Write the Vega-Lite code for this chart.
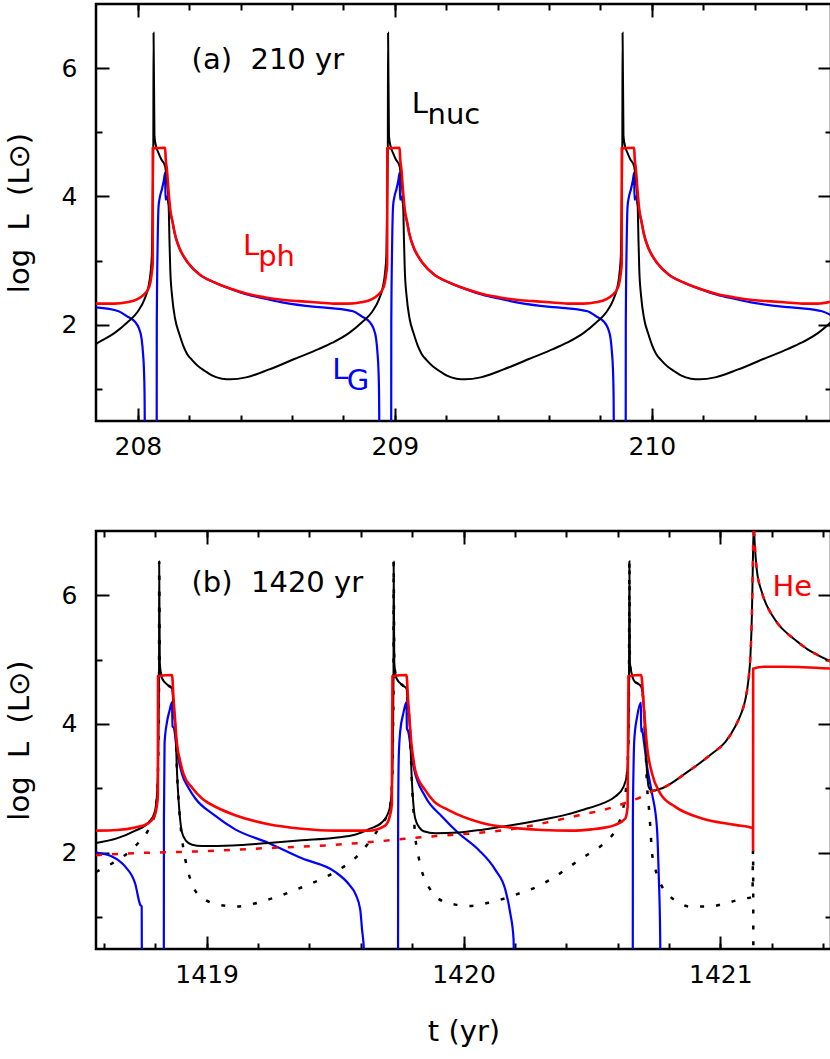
{
"$schema": "https://vega.github.io/schema/vega-lite/v6.json",
"background": "white",
"padding": {"left": 3, "top": 1, "right": 0, "bottom": 0},
"spacing": 67,
"config": {
  "view": {"stroke": "black", "strokeWidth": 2.5},
  "axis": {"domain": false, "grid": false, "tickColor": "black", "tickWidth": 2, "labelColor": "black", "labelFont": "DejaVu Sans", "labelFontSize": 25, "titleFont": "DejaVu Sans", "titleFontSize": 29, "titleFontWeight": "normal", "titleColor": "black"},
  "text": {"font": "DejaVu Sans"},
  "line": {"interpolate": "monotone"}
},
"datasets": {
"a_nuc": [{"t":207.837,"L":1.7},{"t":207.8445,"L":1.72},{"t":207.9085,"L":1.87},{"t":207.9595,"L":2.04},{"t":207.9985,"L":2.2},{"t":208.026,"L":2.4},{"t":208.0415,"L":2.6},{"t":208.049,"L":2.8},{"t":208.0545,"L":3.1},{"t":208.0575,"L":3.9},{"t":208.06,"L":4.8},
{"t":208.061,"L":6.55},{"t":208.0645,"L":4.94},{"t":208.071,"L":4.78},{"t":208.08,"L":4.68},{"t":208.091,"L":4.58},{"t":208.106,"L":4.47},{"t":208.111,"L":4.3},{"t":208.1195,"L":3.9},{"t":208.123,"L":3.3},{"t":208.126,"L":2.86},{"t":208.133,"L":2.45},{"t":208.145,"L":2.09},{"t":208.161,"L":1.86},{"t":208.176,"L":1.68},{"t":208.191,"L":1.55},{"t":208.211,"L":1.45},{"t":208.236,"L":1.35},{"t":208.261,"L":1.28},{"t":208.288,"L":1.21},{"t":208.327,"L":1.16},{"t":208.361,"L":1.15},{"t":208.421,"L":1.18},{"t":208.508,"L":1.3},{"t":208.561,"L":1.385},{"t":208.611,"L":1.47},{"t":208.703,"L":1.62},{"t":208.757,"L":1.72},{"t":208.821,"L":1.87},{"t":208.872,"L":2.04},{"t":208.911,"L":2.2},{"t":208.9385,"L":2.4},{"t":208.954,"L":2.6},{"t":208.9615,"L":2.8},{"t":208.967,"L":3.1},{"t":208.97,"L":3.9},{"t":208.9725,"L":4.8},
{"t":208.9735,"L":6.55},{"t":208.977,"L":4.94},{"t":208.9835,"L":4.78},{"t":208.9925,"L":4.68},{"t":209.0035,"L":4.58},{"t":209.0185,"L":4.47},{"t":209.0235,"L":4.3},{"t":209.032,"L":3.9},{"t":209.0355,"L":3.3},{"t":209.0385,"L":2.86},{"t":209.0455,"L":2.45},{"t":209.0575,"L":2.09},{"t":209.0735,"L":1.86},{"t":209.0885,"L":1.68},{"t":209.1035,"L":1.55},{"t":209.1235,"L":1.45},{"t":209.1485,"L":1.35},{"t":209.1735,"L":1.28},{"t":209.2005,"L":1.21},{"t":209.2395,"L":1.16},{"t":209.2735,"L":1.15},{"t":209.3335,"L":1.18},{"t":209.4205,"L":1.3},{"t":209.4735,"L":1.385},{"t":209.5235,"L":1.47},{"t":209.6155,"L":1.62},{"t":209.6695,"L":1.72},{"t":209.7335,"L":1.87},{"t":209.7845,"L":2.04},{"t":209.8235,"L":2.2},{"t":209.851,"L":2.4},{"t":209.8665,"L":2.6},{"t":209.874,"L":2.8},{"t":209.8795,"L":3.1},{"t":209.8825,"L":3.9},{"t":209.885,"L":4.8},
{"t":209.886,"L":6.55},{"t":209.8895,"L":4.94},{"t":209.896,"L":4.78},{"t":209.905,"L":4.68},{"t":209.916,"L":4.58},{"t":209.931,"L":4.47},{"t":209.936,"L":4.3},{"t":209.9445,"L":3.9},{"t":209.948,"L":3.3},{"t":209.951,"L":2.86},{"t":209.958,"L":2.45},{"t":209.97,"L":2.09},{"t":209.986,"L":1.86},{"t":210.001,"L":1.68},{"t":210.016,"L":1.55},{"t":210.036,"L":1.45},{"t":210.061,"L":1.35},{"t":210.086,"L":1.28},{"t":210.113,"L":1.21},{"t":210.152,"L":1.16},{"t":210.186,"L":1.15},{"t":210.246,"L":1.18},{"t":210.333,"L":1.3},{"t":210.386,"L":1.385},{"t":210.436,"L":1.47},{"t":210.528,"L":1.62},{"t":210.582,"L":1.72},{"t":210.646,"L":1.87},{"t":210.697,"L":2.04}],
"a_ph": [{"t":207.837,"L":2.33},{"t":207.9085,"L":2.33},{"t":207.9565,"L":2.35},{"t":207.9985,"L":2.4},{"t":208.0235,"L":2.47},{"t":208.0365,"L":2.53},{"t":208.0485,"L":2.66},{"t":208.0545,"L":2.82},{"t":208.0575,"L":2.95},{"t":208.058,"L":4.75},{"t":208.106,"L":4.76},{"t":208.108,"L":4.6},{"t":208.113,"L":4.42},{"t":208.119,"L":4.1},{"t":208.126,"L":3.8},{"t":208.135,"L":3.6},{"t":208.143,"L":3.43},{"t":208.161,"L":3.2},{"t":208.176,"L":3.08},{"t":208.194,"L":2.97},{"t":208.241,"L":2.78},{"t":208.298,"L":2.66},{"t":208.361,"L":2.56},{"t":208.428,"L":2.48},{"t":208.491,"L":2.43},{"t":208.558,"L":2.39},{"t":208.621,"L":2.37},{"t":208.688,"L":2.35},{"t":208.761,"L":2.33},{"t":208.821,"L":2.33},{"t":208.869,"L":2.35},{"t":208.911,"L":2.4},{"t":208.936,"L":2.47},{"t":208.949,"L":2.53},{"t":208.961,"L":2.66},{"t":208.967,"L":2.82},{"t":208.97,"L":2.95},{"t":208.9705,"L":4.75},{"t":209.0185,"L":4.76},{"t":209.0205,"L":4.6},{"t":209.0255,"L":4.42},{"t":209.0315,"L":4.1},{"t":209.0385,"L":3.8},{"t":209.0475,"L":3.6},{"t":209.0555,"L":3.43},{"t":209.0735,"L":3.2},{"t":209.0885,"L":3.08},{"t":209.1065,"L":2.97},{"t":209.1535,"L":2.78},{"t":209.2105,"L":2.66},{"t":209.2735,"L":2.56},{"t":209.3405,"L":2.48},{"t":209.4035,"L":2.43},{"t":209.4705,"L":2.39},{"t":209.5335,"L":2.37},{"t":209.6005,"L":2.35},{"t":209.6735,"L":2.33},{"t":209.7335,"L":2.33},{"t":209.7815,"L":2.35},{"t":209.8235,"L":2.4},{"t":209.8485,"L":2.47},{"t":209.8615,"L":2.53},{"t":209.8735,"L":2.66},{"t":209.8795,"L":2.82},{"t":209.8825,"L":2.95},{"t":209.883,"L":4.75},{"t":209.931,"L":4.76},{"t":209.933,"L":4.6},{"t":209.938,"L":4.42},{"t":209.944,"L":4.1},{"t":209.951,"L":3.8},{"t":209.96,"L":3.6},{"t":209.968,"L":3.43},{"t":209.986,"L":3.2},{"t":210.001,"L":3.08},{"t":210.019,"L":2.97},{"t":210.066,"L":2.78},{"t":210.123,"L":2.66},{"t":210.186,"L":2.56},{"t":210.253,"L":2.48},{"t":210.316,"L":2.43},{"t":210.383,"L":2.39},{"t":210.446,"L":2.37},{"t":210.513,"L":2.35},{"t":210.586,"L":2.33},{"t":210.646,"L":2.33},{"t":210.697,"L":2.36}],
"a_g": [{"t":207.837,"L":2.27},{"t":207.925,"L":2.21},{"t":207.9585,"L":2.13},{"t":207.99,"L":2.04},{"t":208.0035,"L":1.95},{"t":208.0145,"L":1.78},{"t":208.02,"L":1.55},{"t":208.0235,"L":1.31},{"t":208.026,"L":0.9},{"t":208.0285,"L":-0.5},{"t":208.073,"L":-0.5},{"t":208.0735,"L":2.0},{"t":208.077,"L":3.3},{"t":208.0805,"L":3.85},{"t":208.086,"L":4.0},{"t":208.0933,"L":4.11},{"t":208.101,"L":4.25},{"t":208.106,"L":4.37},{"t":208.1075,"L":3.95},{"t":208.111,"L":4.0},{"t":208.116,"L":3.95},{"t":208.121,"L":3.85},{"t":208.126,"L":3.75},{"t":208.135,"L":3.6},{"t":208.143,"L":3.43},{"t":208.161,"L":3.2},{"t":208.176,"L":3.08},{"t":208.194,"L":2.97},{"t":208.241,"L":2.78},{"t":208.298,"L":2.66},{"t":208.361,"L":2.56},{"t":208.428,"L":2.47},{"t":208.491,"L":2.41},{"t":208.561,"L":2.35},{"t":208.691,"L":2.28},{"t":208.751,"L":2.26},{"t":208.8375,"L":2.21},{"t":208.871,"L":2.13},{"t":208.9025,"L":2.04},{"t":208.916,"L":1.95},{"t":208.927,"L":1.78},{"t":208.9325,"L":1.55},{"t":208.936,"L":1.31},{"t":208.9385,"L":0.9},{"t":208.941,"L":-0.5},{"t":208.9855,"L":-0.5},{"t":208.986,"L":2.0},{"t":208.9895,"L":3.3},{"t":208.993,"L":3.85},{"t":208.9985,"L":4.0},{"t":209.0058,"L":4.11},{"t":209.0135,"L":4.25},{"t":209.0185,"L":4.37},{"t":209.02,"L":3.95},{"t":209.0235,"L":4.0},{"t":209.0285,"L":3.95},{"t":209.0335,"L":3.85},{"t":209.0385,"L":3.75},{"t":209.0475,"L":3.6},{"t":209.0555,"L":3.43},{"t":209.0735,"L":3.2},{"t":209.0885,"L":3.08},{"t":209.1065,"L":2.97},{"t":209.1535,"L":2.78},{"t":209.2105,"L":2.66},{"t":209.2735,"L":2.56},{"t":209.3405,"L":2.47},{"t":209.4035,"L":2.41},{"t":209.4735,"L":2.35},{"t":209.6035,"L":2.28},{"t":209.6635,"L":2.26},{"t":209.75,"L":2.21},{"t":209.7835,"L":2.13},{"t":209.815,"L":2.04},{"t":209.8285,"L":1.95},{"t":209.8395,"L":1.78},{"t":209.845,"L":1.55},{"t":209.8485,"L":1.31},{"t":209.851,"L":0.9},{"t":209.8535,"L":-0.5},{"t":209.898,"L":-0.5},{"t":209.8985,"L":2.0},{"t":209.902,"L":3.3},{"t":209.9055,"L":3.85},{"t":209.911,"L":4.0},{"t":209.9183,"L":4.11},{"t":209.926,"L":4.25},{"t":209.931,"L":4.37},{"t":209.9325,"L":3.95},{"t":209.936,"L":4.0},{"t":209.941,"L":3.95},{"t":209.946,"L":3.85},{"t":209.951,"L":3.75},{"t":209.96,"L":3.6},{"t":209.968,"L":3.43},{"t":209.986,"L":3.2},{"t":210.001,"L":3.08},{"t":210.019,"L":2.97},{"t":210.066,"L":2.78},{"t":210.123,"L":2.66},{"t":210.186,"L":2.56},{"t":210.253,"L":2.47},{"t":210.316,"L":2.41},{"t":210.386,"L":2.35},{"t":210.516,"L":2.28},{"t":210.576,"L":2.26},{"t":210.6625,"L":2.21},{"t":210.697,"L":2.15}],
"a_tk": [{"t":208.209,"L":5.99,"label":"(a)\u00a0\u00a0210 yr"},{"t":209.066,"L":5.3,"label":"L"},{"t":209.127,"L":5.13,"label":"nuc"}],
"a_tr": [{"t":208.409,"L":3.09,"label":"L"},{"t":208.468,"L":2.92,"label":"ph"}],
"a_tb": [{"t":208.756,"L":1.15,"label":"L"},{"t":208.813,"L":0.98,"label":"G"}],
"b_nuc": [{"t":1418.569,"L":2.15},{"t":1418.65,"L":2.22},{"t":1418.722,"L":2.34},{"t":1418.774,"L":2.47},{"t":1418.795,"L":2.6},{"t":1418.803,"L":2.75},{"t":1418.809,"L":3.1},{"t":1418.8125,"L":3.9},{"t":1418.8145,"L":4.8},{"t":1418.815,"L":6.52},{"t":1418.8175,"L":4.95},{"t":1418.826,"L":4.71},{"t":1418.85,"L":4.6},{"t":1418.865,"L":4.55},{"t":1418.871,"L":4.28},{"t":1418.878,"L":3.96},{"t":1418.885,"L":3.2},{"t":1418.891,"L":2.79},{"t":1418.904,"L":2.31},{"t":1418.92,"L":2.18},{"t":1418.943,"L":2.12},{"t":1418.982,"L":2.1},{"t":1419.1,"L":2.11},{"t":1419.241,"L":2.15},{"t":1419.37,"L":2.19},{"t":1419.5,"L":2.23},{"t":1419.58,"L":2.28},{"t":1419.63,"L":2.36},{"t":1419.683,"L":2.47},{"t":1419.705,"L":2.6},{"t":1419.715,"L":2.74},{"t":1419.722,"L":3.1},{"t":1419.7255,"L":3.9},{"t":1419.7275,"L":4.8},{"t":1419.728,"L":6.52},{"t":1419.7305,"L":4.95},{"t":1419.739,"L":4.71},{"t":1419.763,"L":4.6},{"t":1419.778,"L":4.55},{"t":1419.784,"L":4.28},{"t":1419.791,"L":3.96},{"t":1419.798,"L":3.2},{"t":1419.806,"L":2.7},{"t":1419.812,"L":2.53},{"t":1419.83,"L":2.38},{"t":1419.845,"L":2.33},{"t":1419.89,"L":2.3},{"t":1419.98,"L":2.31},{"t":1420.08,"L":2.36},{"t":1420.18,"L":2.42},{"t":1420.306,"L":2.51},{"t":1420.4,"L":2.59},{"t":1420.47,"L":2.67},{"t":1420.539,"L":2.76},{"t":1420.591,"L":2.87},{"t":1420.624,"L":3.03},{"t":1420.637,"L":3.23},{"t":1420.642,"L":3.75},{"t":1420.6445,"L":4.78},{"t":1420.646,"L":6.53},{"t":1420.648,"L":4.95},{"t":1420.655,"L":4.78},{"t":1420.663,"L":4.68},{"t":1420.692,"L":4.58},{"t":1420.702,"L":4.27},{"t":1420.708,"L":3.75},{"t":1420.715,"L":3.23},{"t":1420.721,"L":3.02},{"t":1420.734,"L":2.96},{"t":1420.773,"L":3.0},{"t":1420.864,"L":3.23},{"t":1420.968,"L":3.54},{"t":1421.02,"L":3.72},{"t":1421.058,"L":3.96},{"t":1421.08,"L":4.15},{"t":1421.097,"L":4.37},{"t":1421.11,"L":4.7},{"t":1421.117,"L":5.04},{"t":1421.123,"L":5.7},{"t":1421.126,"L":6.33},{"t":1421.13,"L":7.1},{"t":1421.134,"L":6.8},{"t":1421.142,"L":6.4},{"t":1421.16,"L":6.07},{"t":1421.18,"L":5.85},{"t":1421.2,"L":5.7},{"t":1421.23,"L":5.53},{"t":1421.26,"L":5.41},{"t":1421.3,"L":5.28},{"t":1421.34,"L":5.16},{"t":1421.38,"L":5.07},{"t":1421.431,"L":4.97}],
"b_ph": [{"t":1418.569,"L":2.34},{"t":1418.65,"L":2.35},{"t":1418.722,"L":2.39},{"t":1418.77,"L":2.45},{"t":1418.795,"L":2.55},{"t":1418.805,"L":2.7},{"t":1418.81,"L":2.9},{"t":1418.8105,"L":4.74},{"t":1418.865,"L":4.76},{"t":1418.871,"L":4.39},{"t":1418.878,"L":4.0},{"t":1418.884,"L":3.7},{"t":1418.895,"L":3.45},{"t":1418.91,"L":3.22},{"t":1418.945,"L":3.0},{"t":1418.982,"L":2.84},{"t":1419.04,"L":2.7},{"t":1419.111,"L":2.58},{"t":1419.241,"L":2.44},{"t":1419.37,"L":2.37},{"t":1419.5,"L":2.34},{"t":1419.63,"L":2.34},{"t":1419.695,"L":2.42},{"t":1419.712,"L":2.55},{"t":1419.721,"L":2.75},{"t":1419.7235,"L":4.74},{"t":1419.778,"L":4.76},{"t":1419.784,"L":4.39},{"t":1419.791,"L":4.0},{"t":1419.797,"L":3.7},{"t":1419.805,"L":3.45},{"t":1419.812,"L":3.28},{"t":1419.851,"L":2.97},{"t":1419.884,"L":2.8},{"t":1419.942,"L":2.66},{"t":1420.072,"L":2.46},{"t":1420.202,"L":2.38},{"t":1420.306,"L":2.35},{"t":1420.42,"L":2.34},{"t":1420.5,"L":2.36},{"t":1420.539,"L":2.38},{"t":1420.591,"L":2.43},{"t":1420.63,"L":2.53},{"t":1420.639,"L":2.71},{"t":1420.6425,"L":4.74},{"t":1420.692,"L":4.76},{"t":1420.702,"L":4.27},{"t":1420.715,"L":3.64},{"t":1420.734,"L":3.23},{"t":1420.766,"L":2.92},{"t":1420.825,"L":2.71},{"t":1420.929,"L":2.53},{"t":1421.058,"L":2.43},{"t":1421.127,"L":2.38},{"t":1421.1275,"L":2.04},{"t":1421.128,"L":4.86},{"t":1421.17,"L":4.89},{"t":1421.25,"L":4.89},{"t":1421.431,"L":4.86}],
"b_g": [{"t":1418.569,"L":2.0},{"t":1418.631,"L":1.94},{"t":1418.683,"L":1.78},{"t":1418.722,"L":1.51},{"t":1418.741,"L":1.19},{"t":1418.747,"L":1.16},{"t":1418.748,"L":-0.5},{"t":1418.833,"L":-0.5},{"t":1418.8335,"L":2.5},{"t":1418.836,"L":3.7},{"t":1418.845,"L":4.02},{"t":1418.855,"L":4.2},{"t":1418.865,"L":4.34},{"t":1418.867,"L":3.96},{"t":1418.872,"L":3.94},{"t":1418.884,"L":3.59},{"t":1418.904,"L":3.22},{"t":1418.93,"L":3.0},{"t":1418.956,"L":2.84},{"t":1419.03,"L":2.58},{"t":1419.111,"L":2.36},{"t":1419.241,"L":2.15},{"t":1419.371,"L":1.91},{"t":1419.5,"L":1.7},{"t":1419.553,"L":1.51},{"t":1419.58,"L":1.35},{"t":1419.598,"L":1.11},{"t":1419.605,"L":0.8},{"t":1419.612,"L":0.5},{"t":1419.615,"L":-0.5},{"t":1419.745,"L":-0.5},{"t":1419.7455,"L":2.5},{"t":1419.748,"L":3.5},{"t":1419.754,"L":3.9},{"t":1419.765,"L":4.15},{"t":1419.778,"L":4.34},{"t":1419.7795,"L":3.93},{"t":1419.785,"L":3.88},{"t":1419.797,"L":3.55},{"t":1419.806,"L":3.33},{"t":1419.851,"L":2.87},{"t":1419.916,"L":2.56},{"t":1419.981,"L":2.3},{"t":1420.059,"L":2.04},{"t":1420.124,"L":1.73},{"t":1420.163,"L":1.42},{"t":1420.182,"L":1.06},{"t":1420.195,"L":0.65},{"t":1420.198,"L":-0.5},{"t":1420.659,"L":-0.5},{"t":1420.6595,"L":2.5},{"t":1420.662,"L":3.3},{"t":1420.665,"L":3.75},{"t":1420.676,"L":4.11},{"t":1420.691,"L":4.33},{"t":1420.6915,"L":3.88},{"t":1420.695,"L":3.93},{"t":1420.7,"L":3.8},{"t":1420.715,"L":3.33},{"t":1420.734,"L":2.92},{"t":1420.753,"L":2.4},{"t":1420.76,"L":1.68},{"t":1420.766,"L":0.65},{"t":1420.767,"L":-0.5}],
"b_h": [{"t":1418.569,"L":1.7},{"t":1418.631,"L":1.83},{"t":1418.722,"L":2.1},{"t":1418.774,"L":2.36},{"t":1418.795,"L":2.55},{"t":1418.803,"L":2.72},{"t":1418.809,"L":3.05},{"t":1418.8125,"L":3.9},{"t":1418.8145,"L":4.8},{"t":1418.815,"L":6.52},{"t":1418.8175,"L":4.95},{"t":1418.826,"L":4.71},{"t":1418.85,"L":4.6},{"t":1418.865,"L":4.55},{"t":1418.871,"L":4.28},{"t":1418.878,"L":3.96},{"t":1418.885,"L":3.2},{"t":1418.891,"L":2.79},{"t":1418.9,"L":2.35},{"t":1418.91,"L":2.04},{"t":1418.923,"L":1.78},{"t":1418.943,"L":1.51},{"t":1418.982,"L":1.3},{"t":1419.047,"L":1.19},{"t":1419.111,"L":1.16},{"t":1419.241,"L":1.27},{"t":1419.371,"L":1.46},{"t":1419.5,"L":1.7},{"t":1419.58,"L":1.92},{"t":1419.63,"L":2.15},{"t":1419.683,"L":2.45},{"t":1419.705,"L":2.6},{"t":1419.715,"L":2.74},{"t":1419.722,"L":3.1},{"t":1419.7255,"L":3.9},{"t":1419.7275,"L":4.8},{"t":1419.728,"L":6.52},{"t":1419.7305,"L":4.95},{"t":1419.739,"L":4.71},{"t":1419.763,"L":4.6},{"t":1419.778,"L":4.55},{"t":1419.784,"L":4.28},{"t":1419.791,"L":3.96},{"t":1419.798,"L":3.2},{"t":1419.806,"L":2.6},{"t":1419.812,"L":2.25},{"t":1419.822,"L":2.0},{"t":1419.835,"L":1.75},{"t":1419.85,"L":1.57},{"t":1419.87,"L":1.43},{"t":1419.903,"L":1.28},{"t":1419.968,"L":1.19},{"t":1420.033,"L":1.17},{"t":1420.098,"L":1.22},{"t":1420.163,"L":1.29},{"t":1420.228,"L":1.38},{"t":1420.293,"L":1.48},{"t":1420.338,"L":1.58},{"t":1420.468,"L":1.93},{"t":1420.535,"L":2.1},{"t":1420.565,"L":2.2},{"t":1420.598,"L":2.4},{"t":1420.62,"L":2.66},{"t":1420.633,"L":3.0},{"t":1420.637,"L":3.23},{"t":1420.642,"L":3.75},{"t":1420.6445,"L":4.78},{"t":1420.646,"L":6.53},{"t":1420.648,"L":4.95},{"t":1420.655,"L":4.78},{"t":1420.663,"L":4.68},{"t":1420.692,"L":4.58},{"t":1420.702,"L":4.27},{"t":1420.708,"L":3.75},{"t":1420.715,"L":3.02},{"t":1420.721,"L":2.75},{"t":1420.727,"L":2.42},{"t":1420.734,"L":2.0},{"t":1420.743,"L":1.8},{"t":1420.753,"L":1.66},{"t":1420.773,"L":1.47},{"t":1420.795,"L":1.35},{"t":1420.819,"L":1.27},{"t":1420.883,"L":1.16},{"t":1420.955,"L":1.16},{"t":1421.02,"L":1.21},{"t":1421.086,"L":1.28},{"t":1421.125,"L":1.31},{"t":1421.1275,"L":2.04},{"t":1421.129,"L":-0.5}],
"b_he": [{"t":1418.569,"L":1.96},{"t":1418.722,"L":1.99},{"t":1418.982,"L":2.02},{"t":1419.241,"L":2.07},{"t":1419.5,"L":2.12},{"t":1419.738,"L":2.2},{"t":1419.812,"L":2.23},{"t":1419.942,"L":2.27},{"t":1420.072,"L":2.31},{"t":1420.228,"L":2.39},{"t":1420.338,"L":2.48},{"t":1420.45,"L":2.58},{"t":1420.552,"L":2.67},{"t":1420.63,"L":2.77},{"t":1420.695,"L":2.87},{"t":1420.734,"L":2.95},{"t":1420.773,"L":3.0},{"t":1420.864,"L":3.23},{"t":1420.968,"L":3.54},{"t":1421.02,"L":3.72},{"t":1421.058,"L":3.96},{"t":1421.08,"L":4.15},{"t":1421.097,"L":4.37},{"t":1421.11,"L":4.7},{"t":1421.117,"L":5.04},{"t":1421.123,"L":5.7},{"t":1421.126,"L":6.33},{"t":1421.13,"L":7.1},{"t":1421.134,"L":6.8},{"t":1421.142,"L":6.4},{"t":1421.16,"L":6.07},{"t":1421.18,"L":5.85},{"t":1421.2,"L":5.7},{"t":1421.23,"L":5.53},{"t":1421.26,"L":5.41},{"t":1421.3,"L":5.28},{"t":1421.34,"L":5.16},{"t":1421.38,"L":5.07},{"t":1421.431,"L":4.97}],
"b_tk": [{"t":1418.941,"L":6.05,"label":"(b)\u00a0\u00a01420 yr"}],
"b_tr": [{"t":1421.203,"L":5.99,"label":"He"}]
},
"vconcat": [
{
 "width": 735, "height": 417,
 "resolve": {"axis": {"x": "independent", "y": "independent"}},
 "layer": [
  {"data": {"name": "a_g"}, "mark": {"type": "line", "color": "#0000ff", "strokeWidth": 2.2, "clip": true},
   "encoding": {
    "x": {"field": "t", "type": "quantitative", "scale": {"domain": [207.837, 210.697], "nice": false, "zero": false}, "axis": {"orient": "bottom", "values": [208, 208.2, 208.4, 208.6, 208.8, 209, 209.2, 209.4, 209.6, 209.8, 210, 210.2, 210.4, 210.6], "tickSize": -6, "labels": false, "title": null}},
    "y": {"field": "L", "type": "quantitative", "scale": {"domain": [0.5, 7], "nice": false, "zero": false}, "axis": {"orient": "left", "values": [1, 3, 5], "tickSize": -6, "labels": false, "title": null}}}},
  {"data": {"name": "a_nuc"}, "mark": {"type": "line", "color": "black", "strokeWidth": 2, "clip": true},
   "encoding": {
    "x": {"field": "t", "type": "quantitative", "scale": {"domain": [207.837, 210.697], "nice": false, "zero": false}, "axis": {"orient": "bottom", "values": [208, 209, 210], "tickSize": -13, "labelPadding": 26, "format": "d", "labelFlush": false, "title": null}},
    "y": {"field": "L", "type": "quantitative", "scale": {"domain": [0.5, 7], "nice": false, "zero": false}, "axis": {"orient": "left", "values": [2, 4, 6], "tickSize": -13, "labelPadding": 32, "format": "d", "labelFlush": false, "title": "log\u00a0\u00a0L\u00a0\u00a0(L⊙)", "titlePadding": 27}}}},
  {"data": {"name": "a_ph"}, "mark": {"type": "line", "color": "#ff0000", "strokeWidth": 2.6, "clip": true},
   "encoding": {
    "x": {"field": "t", "type": "quantitative", "scale": {"domain": [207.837, 210.697], "nice": false, "zero": false}, "axis": {"orient": "top", "values": [208, 208.2, 208.4, 208.6, 208.8, 209, 209.2, 209.4, 209.6, 209.8, 210, 210.2, 210.4, 210.6], "tickSize": -6, "labels": false, "title": null}},
    "y": {"field": "L", "type": "quantitative", "scale": {"domain": [0.5, 7], "nice": false, "zero": false}, "axis": {"orient": "right", "values": [1, 3, 5], "tickSize": -6, "labels": false, "title": null}}}},
  {"data": {"name": "a_tk"}, "mark": {"type": "text", "align": "left", "baseline": "alphabetic", "fontSize": 29, "color": "black"},
   "encoding": {
    "x": {"field": "t", "type": "quantitative", "scale": {"domain": [207.837, 210.697], "nice": false, "zero": false}, "axis": {"orient": "top", "values": [208, 209, 210], "tickSize": -13, "labels": false, "title": null}},
    "y": {"field": "L", "type": "quantitative", "scale": {"domain": [0.5, 7], "nice": false, "zero": false}, "axis": {"orient": "right", "values": [2, 4, 6], "tickSize": -13, "labels": false, "title": null}},
    "text": {"field": "label"}}},
  {"data": {"name": "a_tr"}, "mark": {"type": "text", "align": "left", "baseline": "alphabetic", "fontSize": 29, "color": "#ff0000"},
   "encoding": {
    "x": {"field": "t", "type": "quantitative", "scale": {"domain": [207.837, 210.697], "nice": false, "zero": false}, "axis": null},
    "y": {"field": "L", "type": "quantitative", "scale": {"domain": [0.5, 7], "nice": false, "zero": false}, "axis": null},
    "text": {"field": "label"}}},
  {"data": {"name": "a_tb"}, "mark": {"type": "text", "align": "left", "baseline": "alphabetic", "fontSize": 29, "color": "#0000ff"},
   "encoding": {
    "x": {"field": "t", "type": "quantitative", "scale": {"domain": [207.837, 210.697], "nice": false, "zero": false}, "axis": null},
    "y": {"field": "L", "type": "quantitative", "scale": {"domain": [0.5, 7], "nice": false, "zero": false}, "axis": null},
    "text": {"field": "label"}}}
 ]
},
{
 "width": 735, "height": 418,
 "resolve": {"axis": {"x": "independent", "y": "independent"}},
 "layer": [
  {"data": {"name": "b_g"}, "mark": {"type": "line", "color": "#0000ff", "strokeWidth": 2.2, "clip": true},
   "encoding": {
    "x": {"field": "t", "type": "quantitative", "scale": {"domain": [1418.569, 1421.431], "nice": false, "zero": false}, "axis": {"orient": "bottom", "values": [1418.6, 1418.8, 1419, 1419.2, 1419.4, 1419.6, 1419.8, 1420, 1420.2, 1420.4, 1420.6, 1420.8, 1421, 1421.2, 1421.4], "tickSize": -6, "labels": false, "title": null}},
    "y": {"field": "L", "type": "quantitative", "scale": {"domain": [0.5, 7], "nice": false, "zero": false}, "axis": {"orient": "left", "values": [1, 3, 5], "tickSize": -6, "labels": false, "title": null}}}},
  {"data": {"name": "b_h"}, "mark": {"type": "line", "color": "black", "strokeWidth": 2.5, "strokeDash": [4, 12], "clip": true},
   "encoding": {
    "x": {"field": "t", "type": "quantitative", "scale": {"domain": [1418.569, 1421.431], "nice": false, "zero": false}, "axis": null},
    "y": {"field": "L", "type": "quantitative", "scale": {"domain": [0.5, 7], "nice": false, "zero": false}, "axis": null}}},
  {"data": {"name": "b_nuc"}, "mark": {"type": "line", "color": "black", "strokeWidth": 2, "clip": true},
   "encoding": {
    "x": {"field": "t", "type": "quantitative", "scale": {"domain": [1418.569, 1421.431], "nice": false, "zero": false}, "axis": {"orient": "bottom", "values": [1419, 1420, 1421], "tickSize": -13, "labelPadding": 26, "format": "d", "labelFlush": false, "title": "t (yr)", "titlePadding": 30}},
    "y": {"field": "L", "type": "quantitative", "scale": {"domain": [0.5, 7], "nice": false, "zero": false}, "axis": {"orient": "left", "values": [2, 4, 6], "tickSize": -13, "labelPadding": 32, "format": "d", "labelFlush": false, "title": "log\u00a0\u00a0L\u00a0\u00a0(L⊙)", "titlePadding": 27}}}},
  {"data": {"name": "b_ph"}, "mark": {"type": "line", "color": "#ff0000", "strokeWidth": 2.6, "clip": true},
   "encoding": {
    "x": {"field": "t", "type": "quantitative", "scale": {"domain": [1418.569, 1421.431], "nice": false, "zero": false}, "axis": {"orient": "top", "values": [1418.6, 1418.8, 1419, 1419.2, 1419.4, 1419.6, 1419.8, 1420, 1420.2, 1420.4, 1420.6, 1420.8, 1421, 1421.2, 1421.4], "tickSize": -6, "labels": false, "title": null}},
    "y": {"field": "L", "type": "quantitative", "scale": {"domain": [0.5, 7], "nice": false, "zero": false}, "axis": {"orient": "right", "values": [1, 3, 5], "tickSize": -6, "labels": false, "title": null}}}},
  {"data": {"name": "b_he"}, "mark": {"type": "line", "color": "#ff0000", "strokeWidth": 2.5, "strokeDash": [6, 10], "clip": true},
   "encoding": {
    "x": {"field": "t", "type": "quantitative", "scale": {"domain": [1418.569, 1421.431], "nice": false, "zero": false}, "axis": null},
    "y": {"field": "L", "type": "quantitative", "scale": {"domain": [0.5, 7], "nice": false, "zero": false}, "axis": null}}},
  {"data": {"name": "b_tk"}, "mark": {"type": "text", "align": "left", "baseline": "alphabetic", "fontSize": 29, "color": "black"},
   "encoding": {
    "x": {"field": "t", "type": "quantitative", "scale": {"domain": [1418.569, 1421.431], "nice": false, "zero": false}, "axis": {"orient": "top", "values": [1419, 1420, 1421], "tickSize": -13, "labels": false, "title": null}},
    "y": {"field": "L", "type": "quantitative", "scale": {"domain": [0.5, 7], "nice": false, "zero": false}, "axis": {"orient": "right", "values": [2, 4, 6], "tickSize": -13, "labels": false, "title": null}},
    "text": {"field": "label"}}},
  {"data": {"name": "b_tr"}, "mark": {"type": "text", "align": "left", "baseline": "alphabetic", "fontSize": 29, "color": "#ff0000"},
   "encoding": {
    "x": {"field": "t", "type": "quantitative", "scale": {"domain": [1418.569, 1421.431], "nice": false, "zero": false}, "axis": null},
    "y": {"field": "L", "type": "quantitative", "scale": {"domain": [0.5, 7], "nice": false, "zero": false}, "axis": null},
    "text": {"field": "label"}}}
 ]
}
]
}
